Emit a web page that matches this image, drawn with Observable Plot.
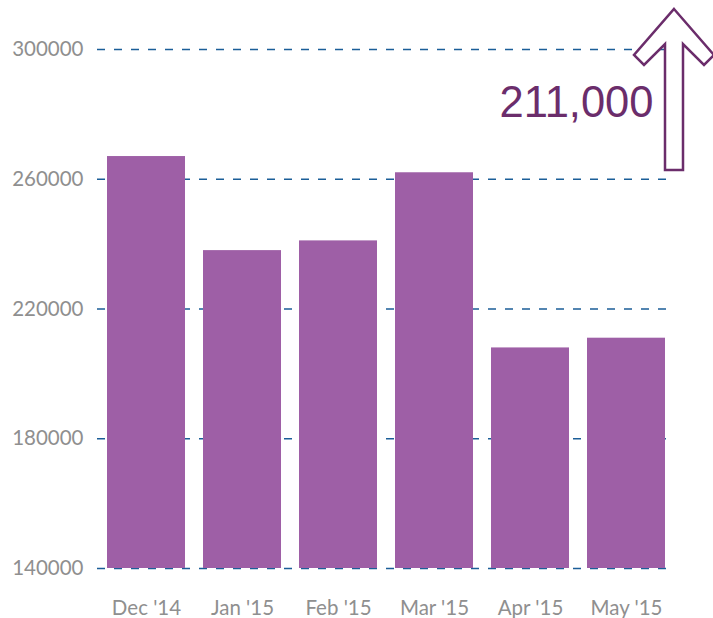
<!DOCTYPE html>
<html>
<head>
<meta charset="utf-8">
<script src="https://cdn.jsdelivr.net/npm/d3@7"></script>
<script src="https://cdn.jsdelivr.net/npm/@observablehq/plot@0.6"></script>
<style>
  html, body { margin: 0; padding: 0; background: #fff; }
</style>
</head>
<body>
<div id="chart"></div>
<script>
const months = ["Dec '14", "Jan '15", "Feb '15", "Mar '15", "Apr '15", "May '15"];
const values = [267000, 238000, 241000, 262000, 208000, 211000];
const yTicks = [140000, 180000, 220000, 260000, 300000];
const callout = "211,000";

const data = months.map((m, i) => ({month: m, value: values[i]}));

const purple = "#6b2d6b";

function arrowMark() {
  const p = d3.create("svg:path")
    .attr("d", "M674,9 L714,55 L704,65 L683,44 L683,170 L665,170 L665,44 L644,65 L634,55 Z")
    .attr("fill", "#fff")
    .attr("stroke", purple)
    .attr("stroke-width", 2.5)
    .attr("stroke-linejoin", "miter");
  return p.node();
}

const chart = Plot.plot({
  width: 713,
  height: 618,
  marginLeft: 97,
  marginRight: 38,
  marginTop: 49,
  marginBottom: 50,
  style: {color: "#8f8f8f", fontFamily: "Lato, 'Open Sans', sans-serif", background: "#fff"},
  x: {domain: months, paddingInner: 0.19, paddingOuter: 0.095, label: null},
  y: {domain: [yTicks[0], yTicks[yTicks.length - 1]], label: null},
  marks: [
    Plot.gridY(yTicks, {stroke: "#1b5e98", strokeOpacity: 1, strokeWidth: 1.5, strokeDasharray: "8,9"}),
    Plot.barY(data, {x: "month", y1: yTicks[0], y2: "value", fill: "#9e5fa6"}),
    Plot.axisY(yTicks, {tickSize: 0, tickPadding: 14, fontSize: 20.5, tickFormat: d => String(d), label: null}),
    Plot.axisX({tickSize: 0, tickPadding: 32, fontSize: 20.5, label: null}),
    arrowMark,
    Plot.text([callout], {
      text: d => d,
      frameAnchor: "top-right",
      textAnchor: "end",
      lineAnchor: "middle",
      dx: -22,
      dy: 54,
      fontSize: 43.5,
      fill: purple,
      fontFamily: "'Liberation Sans', Arial, sans-serif"
    })
  ]
});

document.getElementById("chart").appendChild(chart);
</script>
</body>
</html>
